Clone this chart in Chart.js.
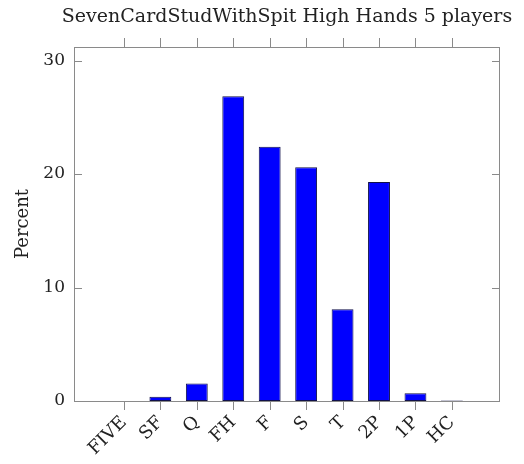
<!DOCTYPE html>
<html>
<head>
<meta charset="utf-8">
<script src="https://cdn.jsdelivr.net/npm/chart.js@4.4.1/dist/chart.umd.min.js"></script>
<style>
  html, body { margin:0; padding:0; background:#fff; }
  #wrap { width:524px; height:464px; }
</style>
</head>
<body>
<div id="wrap"><canvas id="c"></canvas></div>
<script>
// hand categories and share of high hands (percent)
const categories = ['FIVE','SF','Q','FH','F','S','T','2P','1P','HC'];
const percents   = [0.01, 0.38, 1.55, 26.87, 22.41, 20.6, 8.08, 19.31, 0.68, 0.05];
const yTicks     = [0, 10, 20, 30];
const titleText  = 'SevenCardStudWithSpit High Hands 5 players';

const FONT = "'DejaVu Serif', serif";
const INK  = '#222';
const FRAME = '#8a8a8a';

// pgfplots-like box: frame, inward y ticks both sides, outward x ticks top/bottom, title
const framePlugin = {
  id: 'frame',
  afterDraw(chart){
    const { ctx, chartArea:a, scales } = chart;
    ctx.save();
    ctx.strokeStyle = FRAME;
    ctx.lineWidth = 1;
    ctx.strokeRect(a.left + .5, a.top + .5, a.right - a.left - 1, a.bottom - a.top);
    ctx.beginPath();
    for (const v of yTicks){
      const y = Math.round(scales.y.getPixelForValue(v)) + .5;
      ctx.moveTo(a.left, y);  ctx.lineTo(a.left + 8, y);
      ctx.moveTo(a.right, y); ctx.lineTo(a.right - 8, y);
    }
    categories.forEach((_, i) => {
      const x = Math.round(scales.x.getPixelForValue(i)) + .5;
      ctx.moveTo(x, a.top);    ctx.lineTo(x, a.top - 9);
      ctx.moveTo(x, a.bottom); ctx.lineTo(x, a.bottom + 9);
    });
    ctx.stroke();

    ctx.fillStyle = INK;
    ctx.font = `19px ${FONT}`;
    ctx.textAlign = 'center';
    ctx.textBaseline = 'middle';
    ctx.fillText(titleText, (a.left + a.right) / 2, 17);
    ctx.restore();
  }
};

new Chart(document.getElementById('c'), {
  type: 'bar',
  data: {
    datasets: [{
      label: 'Percent',
      data: percents.map((v, i) => ({ x: i, y: v })),
      backgroundColor: '#0000ff',
      borderColor: '#10104a',
      borderWidth: 1,
      borderSkipped: false,
      barPercentage: 0.6,
      categoryPercentage: 1,
    }]
  },
  options: {
    responsive: true,
    maintainAspectRatio: false,
    animation: false,
    layout: { padding: { top: 47, right: 24, left: 0, bottom: 0 } },
    plugins: {
      legend: { display: false },
      tooltip: { enabled: false },
    },
    scales: {
      x: {
        type: 'linear',
        offset: false,
        min: -1.37, max: 10.32,
        afterBuildTicks: s => { s.ticks = categories.map((_, i) => ({ value: i })); },
        afterFit: s => { s.height = 63; },
        grid: { display: false },
        border: { display: false },
        ticks: {
          autoSkip: false,
          minRotation: 45, maxRotation: 45,
          padding: 3,
          color: INK,
          font: { family: FONT, size: 18 },
          callback: v => categories[v] ?? '',
        },
      },
      y: {
        min: 0, max: 31.2,
        afterBuildTicks: s => { s.ticks = yTicks.map(v => ({ value: v })); },
        afterFit: s => { s.width = 74; },
        grid: { display: false },
        border: { display: false },
        ticks: {
          padding: 1,
          color: INK,
          font: { family: FONT, size: 17 },
        },
        title: {
          display: true,
          text: 'Percent',
          color: INK,
          font: { family: FONT, size: 18 },
          padding: { top: 13, bottom: 0 },
        },
      },
    },
  },
  plugins: [framePlugin],
});
</script>
</body>
</html>
